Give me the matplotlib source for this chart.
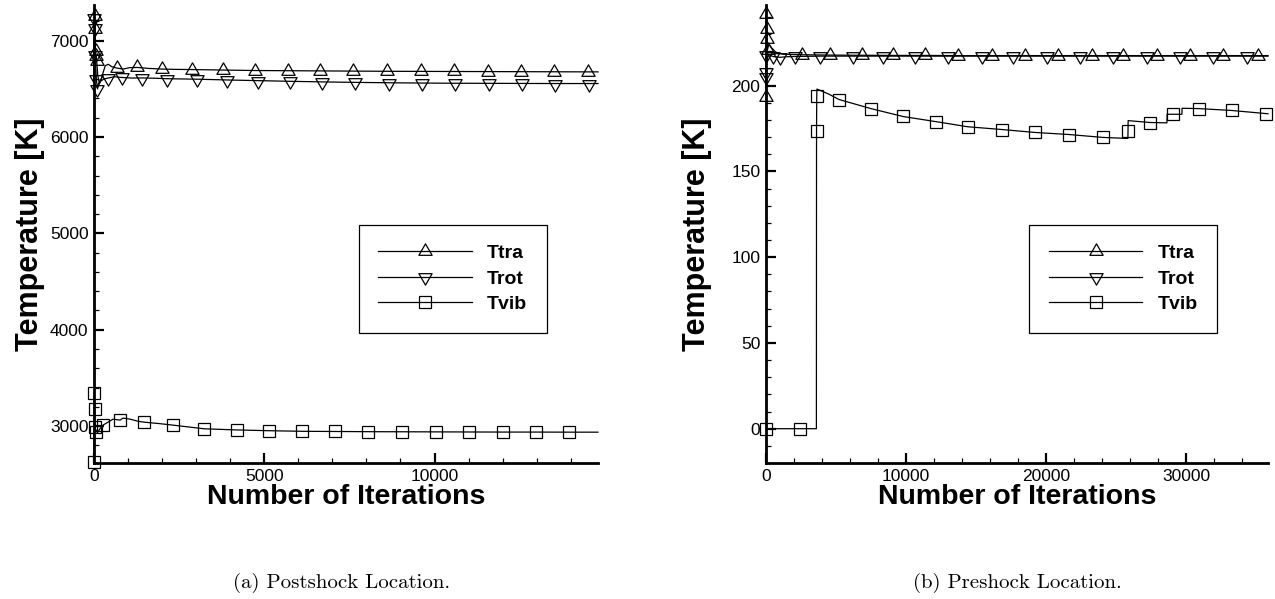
"""Temperature convergence history at the postshock and preshock probes."""

import matplotlib

matplotlib.use("Agg")
import matplotlib.pyplot as plt
from matplotlib.path import Path
from matplotlib.ticker import MultipleLocator

# ---- (a) postshock probe -------------------------------------------------
post_tra_it = [0, 15, 30, 45, 60, 80, 110, 150, 200, 260, 330, 420, 520, 676, 850,
               1050, 1265, 1600, 2000, 2400, 2882, 3794, 4735, 5706, 6647, 7618,
               8618, 9588, 10559, 11559, 12529, 13500, 14500, 14800]
post_tra_T = [6606, 7259, 7124, 6896, 6845, 6793, 6640, 6570, 6590, 6660, 6740, 6755,
              6730, 6715, 6705, 6720, 6722, 6712, 6705, 6702, 6700, 6695, 6690, 6688,
              6686, 6684, 6682, 6681, 6680, 6679, 6678, 6677, 6676, 6676]
post_tra_mk = [15, 30, 45, 60, 80, 676, 1265, 2000, 2882, 3794, 4735, 5706, 6647,
               7618, 8618, 9588, 10559, 11559, 12529, 13500, 14500]

post_rot_it = [0, 10, 25, 40, 55, 70, 100, 140, 200, 280, 412, 600, 824, 1100, 1412,
               1800, 2147, 3029, 3912, 4824, 5765, 6706, 7676, 8650, 9620, 10590,
               11590, 12560, 13530, 14530, 14800]
post_rot_T = [6585, 7230, 7130, 6850, 6700, 6600, 6500, 6540, 6580, 6600, 6612, 6625,
              6618, 6612, 6613, 6610, 6605, 6600, 6592, 6585, 6578, 6572, 6567, 6563,
              6560, 6558, 6557, 6556, 6555, 6555, 6555]
post_rot_mk = [10, 25, 40, 70, 100, 412, 824, 1412, 2147, 3029, 3912, 4824, 5765,
               6706, 7676, 8650, 9620, 10590, 11590, 12560, 13530, 14530]

post_vib_it = [0, 10, 20, 30, 45, 60, 100, 150, 265, 412, 559, 765, 853, 1059, 1294,
               1470, 1941, 2320, 3235, 4200, 5150, 6120, 7090, 8059, 9059, 10029,
               11000, 12000, 12970, 13941, 14800]
post_vib_T = [2627, 3342, 3176, 2990, 2940, 2960, 2930, 2960, 3010, 3041, 3072, 3062,
              3083, 3072, 3050, 3041, 3025, 3010, 2972, 2960, 2952, 2946, 2944, 2942,
              2941, 2940, 2939, 2938, 2938, 2937, 2937]
post_vib_mk = [0, 10, 20, 30, 45, 265, 765, 1470, 2320, 3235, 4200, 5150, 6120, 7090,
               8059, 9059, 10029, 11000, 12000, 12970, 13941]

# ---- (b) preshock probe --------------------------------------------------
pre_tra_it = [0, 20, 40, 70, 110, 200, 400, 700, 1200, 2571, 4571, 6857, 9071, 11357,
              13714, 16143, 18500, 20857, 23286, 25500, 27929, 30286, 32643, 35143,
              35860]
pre_tra_T = [193.6, 242, 233, 227, 221, 224, 222, 219.5, 218.3, 218, 217.8, 217.7,
             217.6, 217.6, 217.5, 217.5, 217.5, 217.5, 217.5, 217.5, 217.5, 217.5,
             217.5, 217.5, 217.5]
pre_tra_mk = [0, 20, 40, 70, 110, 2571, 4571, 6857, 9071, 11357, 13714, 16143, 18500,
              20857, 23286, 25500, 27929, 30286, 32643, 35143]

pre_rot_it = [0, 15, 35, 60, 100, 200, 500, 1000, 1400, 2071, 3857, 6214, 8357, 10643,
              13000, 15429, 17643, 20071, 22429, 24786, 27214, 29571, 31929, 34357,
              35860]
pre_rot_T = [205, 208, 218, 214, 216, 218, 217, 216.5, 216.8, 217, 217.2, 217.2, 217.2,
             217.2, 217.2, 217.2, 217.2, 217.2, 217.2, 217.2, 217.2, 217.2, 217.2,
             217.2, 217.2]
pre_rot_mk = [0, 15, 35, 500, 1000, 2071, 3857, 6214, 8357, 10643, 13000, 15429, 17643,
              20071, 22429, 24786, 27214, 29571, 31929, 34357]

pre_vib_it = [0, 2430, 3600, 3610, 3625, 3640, 4500, 5214, 7500, 9786, 12143, 14429,
              16857, 19214, 21640, 24070, 25850, 25860, 25870, 27430, 28640, 28650,
              29070, 29710, 29720, 30930, 33290, 35710, 35860]
pre_vib_T = [0, 0, 0, 173.8, 194, 198, 195, 191.9, 186.6, 182, 179, 176, 174.4, 172.7,
             171.5, 169.8, 169.2, 173.3, 179.6, 178.5, 178.3, 183.3, 183.3, 183.3,
             186.8, 186.6, 185.5, 183.7, 183.6]
pre_vib_mk = [0, 2430, 3610, 3625, 5214, 7500, 9786, 12143, 14429, 16857, 19214, 21640,
              24070, 25860, 27430, 29070, 30930, 33290, 35710]

labels = ["Ttra", "Trot", "Tvib"]
captions = ["(a) Postshock Location.", "(b) Preshock Location."]

# triangles centred on their centroid, like Tecplot draws them
tri_up = Path([(0, 1), (-0.866, -0.5), (0.866, -0.5), (0, 1)],
              [Path.MOVETO, Path.LINETO, Path.LINETO, Path.CLOSEPOLY])
tri_dn = Path([(0, -1), (-0.866, 0.5), (0.866, 0.5), (0, -1)],
              [Path.MOVETO, Path.LINETO, Path.LINETO, Path.CLOSEPOLY])
markers = [(tri_up, 11), (tri_dn, 11), ("s", 8.3)]

plt.rcParams["font.family"] = ["Liberation Sans", "DejaVu Sans"]

W, H = 1275, 599
fig = plt.figure(figsize=(W / 100, H / 100), dpi=100)
ax1 = fig.add_axes([94 / W, 1 - 463 / H, 504 / W, 458 / H])
ax2 = fig.add_axes([766 / W, 1 - 463 / H, 502 / W, 458 / H])

panels = [
    (ax1, [(post_tra_it, post_tra_T, post_tra_mk),
           (post_rot_it, post_rot_T, post_rot_mk),
           (post_vib_it, post_vib_T, post_vib_mk)]),
    (ax2, [(pre_tra_it, pre_tra_T, pre_tra_mk),
           (pre_rot_it, pre_rot_T, pre_rot_mk),
           (pre_vib_it, pre_vib_T, pre_vib_mk)]),
]

for ax, series in panels:
    for (it, T, mk), (m, ms), lab in zip(series, markers, labels):
        idx = [i for i, x in enumerate(it) if x in mk]
        ax.plot(it, T, color="black", lw=0.9, marker=m, ms=ms, mfc="none",
                mec="black", mew=0.9, markevery=idx, label=lab, clip_on=False)

ax1.set_xlim(0, 14800)
ax1.set_ylim(2617, 7370)
ax1.xaxis.set_major_locator(MultipleLocator(5000))
ax1.xaxis.set_minor_locator(MultipleLocator(1000))
ax1.yaxis.set_major_locator(MultipleLocator(1000))
ax1.yaxis.set_minor_locator(MultipleLocator(200))

ax2.set_xlim(0, 35860)
ax2.set_ylim(-20, 247)
ax2.xaxis.set_major_locator(MultipleLocator(10000))
ax2.xaxis.set_minor_locator(MultipleLocator(2000))
ax2.yaxis.set_major_locator(MultipleLocator(50))
ax2.yaxis.set_minor_locator(MultipleLocator(10))

for ax, ylx, cap_x, cap in [(ax1, -0.127, 342, captions[0]),
                            (ax2, -0.137, 1017, captions[1])]:
    ax.spines[["top", "right"]].set_visible(False)
    ax.spines[["left", "bottom"]].set_linewidth(2)
    ax.tick_params(which="major", direction="in", length=7.5, width=1.6,
                   labelsize=12.5, pad=4)
    ax.tick_params(which="minor", direction="in", length=3.8, width=0.9)
    ax.set_xlabel("Number of Iterations", fontsize=20.5, fontweight="bold")
    ax.set_ylabel("Temperature [K]", fontsize=22, fontweight="bold")
    ax.xaxis.set_label_coords(0.5, -0.074)
    ax.xaxis.label.set_va("center")
    ax.yaxis.set_label_coords(ylx, 0.5)
    ax.yaxis.label.set_va("center")
    leg = ax.legend(loc="center", bbox_to_anchor=(0.712, 0.402), numpoints=1,
                    handlelength=4.8, handletextpad=0.8, labelspacing=0.4,
                    borderpad=1.0, fancybox=False, framealpha=1,
                    prop={"weight": "bold", "size": 14})
    leg.get_frame().set_edgecolor("black")
    leg.get_frame().set_linewidth(0.9)
    fig.text(cap_x / W, 1 - 583 / H, cap, family="cmr10", fontsize=15,
             ha="center", va="center")

fig.savefig("out.png", dpi=100)
plt.close(fig)
